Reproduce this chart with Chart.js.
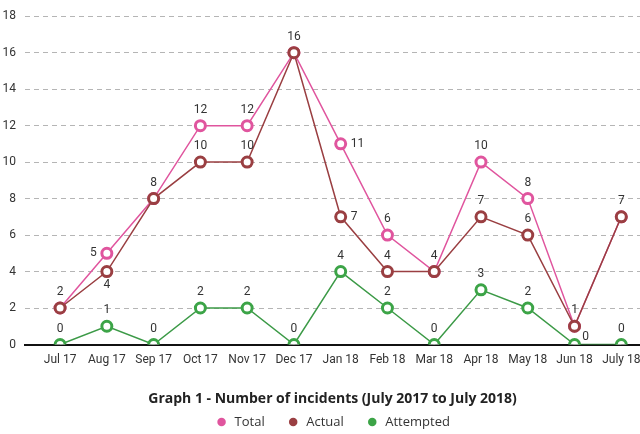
<!DOCTYPE html>
<html>
<head>
<meta charset="utf-8">
<script src="https://cdn.jsdelivr.net/npm/chart.js@4"></script>
<style>
  html, body { margin: 0; padding: 0; background: #fff; }
  #wrap { width: 640px; height: 434px; }
</style>
</head>
<body>
<div id="wrap"><canvas id="chartGET"></canvas></div>
<script>
const months = ['Jul 17', 'Aug 17', 'Sep 17', 'Oct 17', 'Nov 17', 'Dec 17', 'Jan 18',
                'Feb 18', 'Mar 18', 'Apr 18', 'May 18', 'Jun 18', 'July 18'];
const total = [2, 5, 8, 12, 12, 16, 11, 6, 4, 10, 8, 1, 7];
const actual = [2, 4, 8, 10, 10, 16, 7, 4, 4, 7, 6, 1, 7];
const attempted = [0, 1, 0, 2, 2, 0, 4, 2, 0, 3, 2, 0, 0];
const yTicks = [0, 2, 4, 6, 8, 10, 12, 14, 16, 18];

const tickFont = "Roboto, 'DejaVu Sans', sans-serif";

// t = above, b = below, r = right, l = left, ur = up-right, '' = none
const totalPos = ['t', 'l', 't', 't', 't', 't', 'r', 't', 't', 't', 't', 't', 't'];
const actualPos = ['', 'b', '', 't', 't', '', 'r', 't', '', 't', 't', '', ''];
const attemptedPos = ['t', 't', 't', 't', 't', 't', 't', 't', 't', 't', 't', 'ur', 't'];

const toPoints = (arr) => arr.map((v, i) => ({x: i, y: v}));

const pointLabels = {
  id: 'pointLabels',
  afterDatasetsDraw(chart) {
    const ctx = chart.ctx;
    ctx.save();
    ctx.font = "12px " + tickFont;
    ctx.fillStyle = '#333';
    ctx.textBaseline = 'middle';
    chart.data.datasets.forEach((ds, di) => {
      const meta = chart.getDatasetMeta(di);
      meta.data.forEach((pt, i) => {
        const pos = ds.labelPos[i];
        if (!pos) return;
        let x = pt.x, y = pt.y;
        ctx.textAlign = 'center';
        if (pos === 't') y -= 16;
        else if (pos === 'b') y += 13;
        else if (pos === 'r') { x += 10; ctx.textAlign = 'left'; }
        else if (pos === 'l') { x -= 10; ctx.textAlign = 'right'; }
        else if (pos === 'ur') { x += 11; y -= 8; }
        ctx.fillText(ds.data[i].y, x, y);
      });
    });
    ctx.restore();
  }
};

const ctx = document.getElementById('chartGET').getContext('2d');
const myChart = new Chart(ctx, {
  type: 'line',
  data: {
    datasets: [{
      label: 'Total',
      data: toPoints(total),
      labelPos: totalPos,
      borderColor: '#e0559e',
      backgroundColor: '#e0559e',
      pointBackgroundColor: '#fff',
      pointBorderColor: '#e0559e',
      borderWidth: 1.5,
      pointRadius: 5,
      pointBorderWidth: 3,
      order: 3
    },
    {
      label: 'Actual',
      data: toPoints(actual),
      labelPos: actualPos,
      borderColor: '#9a3f42',
      backgroundColor: '#9a3f42',
      pointBackgroundColor: '#fff',
      pointBorderColor: '#9a3f42',
      borderWidth: 1.5,
      pointRadius: 5,
      pointBorderWidth: 3,
      order: 2
    },
    {
      label: 'Attempted',
      data: toPoints(attempted),
      labelPos: attemptedPos,
      borderColor: '#3c9a47',
      backgroundColor: '#3ca447',
      pointBackgroundColor: '#fff',
      pointBorderColor: '#3ca447',
      borderWidth: 1.5,
      pointRadius: 5,
      pointBorderWidth: 3,
      order: 1
    }]
  },
  options: {
    responsive: true,
    maintainAspectRatio: false,
    animation: false,
    layout: { autoPadding: false, padding: { left: 0, right: 0, top: 9, bottom: -4.5 } },
    scales: {
      x: {
        type: 'linear',
        min: -0.75,
        max: 12.4,
        afterBuildTicks: (scale) => { scale.ticks = months.map((m, i) => ({value: i})); },
        afterFit: (scale) => { scale.paddingLeft = 0; scale.paddingRight = 0; },
        grid: { display: false },
        border: { display: true, color: '#111', width: 2 },
        ticks: {
          callback: (v) => months[v],
          color: '#333',
          font: { family: tickFont, size: 12 },
          padding: 0,
          maxRotation: 0,
          autoSkip: false
        }
      },
      y: {
        min: 0,
        max: 18,
        afterBuildTicks: (scale) => { scale.ticks = yTicks.map((v) => ({value: v})); },
        afterFit: (scale) => { scale.width = 25; },
        grid: {
          color: (c) => c.tick && c.tick.value === 0 ? 'rgba(0,0,0,0)' : '#b5b5b5',
          lineWidth: 1,
          drawTicks: false
        },
        border: { display: false, dash: [5, 4] },
        ticks: {
          color: '#333',
          font: { family: tickFont, size: 12 },
          padding: 9
        }
      }
    },
    plugins: {
      tooltip: { enabled: false },
      title: {
        display: true,
        position: 'bottom',
        weight: 500,
        fullSize: false,
        text: 'Graph 1 - Number of incidents (July 2017 to July 2018)',
        color: '#222',
        font: { family: "'Open Sans', sans-serif", size: 14, weight: 'bold' },
        padding: { top: 23.7, bottom: -13.9 }
      },
      legend: {
        position: 'bottom',
        weight: 1000,
        fullSize: false,
        labels: {
          usePointStyle: true,
          pointStyle: 'circle',
          boxWidth: 13,
          boxHeight: 6,
          padding: 22,
          color: '#333',
          font: { family: "'Open Sans', sans-serif", size: 13 },
          generateLabels: (chart) => chart.data.datasets.map((ds, i) => ({
            text: ds.label,
            fillStyle: ds.pointBorderColor,
            strokeStyle: ds.pointBorderColor,
            lineWidth: 0,
            pointStyle: 'circle',
            fontColor: '#333',
            datasetIndex: i
          }))
        }
      }
    }
  },
  plugins: [pointLabels]
});
</script>
</body>
</html>
